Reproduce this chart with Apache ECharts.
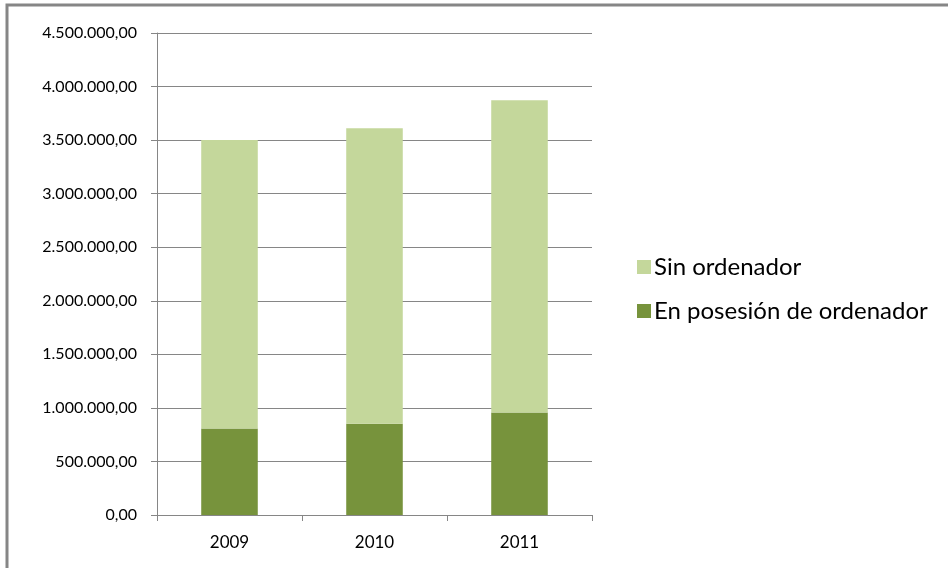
<!DOCTYPE html>
<html>
<head>
<meta charset="utf-8">
<script src="https://cdn.jsdelivr.net/npm/echarts@6/dist/echarts.min.js"></script>
<style>
html,body{margin:0;padding:0;background:#fff;}
#chart{width:948px;height:568px;}
</style>
</head>
<body>
<div id="chart"></div>
<script>
// datos
var years = ['2009', '2010', '2011'];
var conOrdenador = [807000, 853000, 957000];
var sinOrdenador = [2693000, 2757000, 2915000];

function formatNum(v) {
    // formato español: 4.500.000,00
    var s = Math.round(v).toString().replace(/\B(?=(\d{3})+(?!\d))/g, '.');
    return s + ',00';
}

var myChart = echarts.init(document.getElementById('chart'));
var fuente = 'Lato, "Open Sans", sans-serif';

var option = {
    backgroundColor: '#fff',
    animation: false,
    graphic: [{
        type: 'rect',
        shape: {x: 7, y: 5, width: 1000, height: 700},
        style: {fill: 'none', stroke: '#868686', lineWidth: 3}
    }],
    grid: {left: 157, right: 356, top: 33, bottom: 53},
    legend: {
        data: ['Sin ordenador', 'En posesión de ordenador'],
        orient: 'vertical',
        left: 632,
        top: 250,
        itemWidth: 14,
        itemHeight: 14,
        itemGap: 20,
        icon: 'rect',
        textStyle: {fontFamily: fuente, fontSize: 24, color: '#000', padding: [0, 0, 0, -2]}
    },
    xAxis: {
        type: 'category',
        data: years,
        axisLine: {lineStyle: {color: '#868686', width: 1}},
        axisTick: {show: true, length: 6, lineStyle: {color: '#868686'}},
        axisLabel: {fontFamily: fuente, fontSize: 17, color: '#000', margin: 19}
    },
    yAxis: {
        type: 'value',
        min: 0,
        max: 4500000,
        interval: 500000,
        axisLine: {show: true, lineStyle: {color: '#868686', width: 1}},
        axisTick: {show: true, inside: false, length: 6, lineStyle: {color: '#868686'}},
        splitLine: {lineStyle: {color: '#868686', width: 1}},
        axisLabel: {
            fontFamily: fuente, fontSize: 16, color: '#000', margin: 20,
            formatter: formatNum
        }
    },
    series: [
        {
            name: 'En posesión de ordenador',
            type: 'bar',
            stack: 'total',
            barWidth: '39%',
            itemStyle: {color: '#77933c'},
            data: conOrdenador
        },
        {
            name: 'Sin ordenador',
            type: 'bar',
            stack: 'total',
            itemStyle: {color: '#c4d79b'},
            data: sinOrdenador
        }
    ]
};
myChart.setOption(option);
</script>
</body>
</html>
